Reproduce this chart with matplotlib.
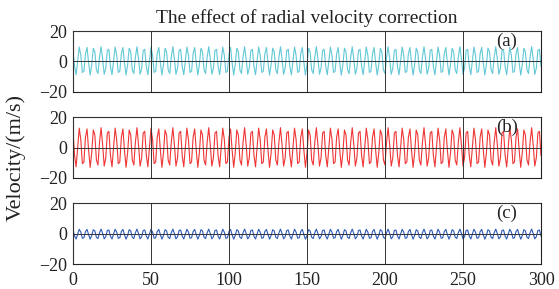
import matplotlib
matplotlib.use("Agg")
import matplotlib.pyplot as plt
import numpy as np

plt.rcParams["font.family"] = ["Liberation Serif", "DejaVu Serif"]
plt.rcParams["axes.unicode_minus"] = True

TITLE = "The effect of radial velocity correction"
YLABEL = "Velocity/(m/s)"
PANEL_TAGS = ["(a)", "(b)", "(c)"]
X_TICKS = [0, 50, 100, 150, 200, 250, 300]
Y_TICKS = [-20, 0, 20]

# velocity samples, one per time unit (0..300)
vel_a = [
    8.0, -3.3, -8.7, 0.4, 9.5, 4.1, -7.2, -6.4, 5.2, 9.2, -0.9, -8.9, -2.1, 8.7, 6.3, -5.5, -7.9, 2.9, 9.7, 1.7, -8.4, -4.4, 7.2,
    8.0, -3.3, -8.7, 0.4, 9.5, 4.1, -7.2, -6.4, 5.2, 9.2, -0.9, -8.9, -2.1, 8.7, 6.3, -5.5, -7.9, 2.9, 9.7, 1.7, -8.4, -4.4, 7.2,
    8.0, -3.3, -8.7, 0.4, 9.5, 4.1, -7.2, -6.4, 5.2, 9.2, -0.9, -8.9, -2.1, 8.7, 6.3, -5.5, -7.9, 2.9, 9.7, 1.7, -8.4, -4.4, 7.2,
    8.0, -3.3, -8.7, 0.4, 9.5, 4.1, -7.2, -6.4, 5.2, 9.2, -0.9, -8.9, -2.1, 8.7, 6.3, -5.5, -7.9, 2.9, 9.7, 1.7, -8.4, -4.4, 7.2,
    8.0, -3.3, -8.7, 0.4, 9.5, 4.1, -7.2, -6.4, 5.2, 9.2, -0.9, -8.9, -2.1, 8.7, 6.3, -5.5, -7.9, 2.9, 9.7, 1.7, -8.4, -4.4, 7.2,
    8.0, -3.3, -8.7, 0.4, 9.5, 4.1, -7.2, -6.4, 5.2, 9.2, -0.9, -8.9, -2.1, 8.7, 6.3, -5.5, -7.9, 2.9, 9.7, 1.7, -8.4, -4.4, 7.2,
    8.0, -3.3, -8.7, 0.4, 9.5, 4.1, -7.2, -6.4, 5.2, 9.2, -0.9, -8.9, -2.1, 8.7, 6.3, -5.5, -7.9, 2.9, 9.7, 1.7, -8.4, -4.4, 7.2,
    8.0, -3.3, -8.7, 0.4, 9.5, 4.1, -7.2, -6.4, 5.2, 9.2, -0.9, -8.9, -2.1, 8.7, 6.3, -5.5, -7.9, 2.9, 9.7, 1.7, -8.4, -4.4, 7.2,
    8.0, -3.3, -8.7, 0.4, 9.5, 4.1, -7.2, -6.4, 5.2, 9.2, -0.9, -8.9, -2.1, 8.7, 6.3, -5.5, -7.9, 2.9, 9.7, 1.7, -8.4, -4.4, 7.2,
    8.0, -3.3, -8.7, 0.4, 9.5, 4.1, -7.2, -6.4, 5.2, 9.2, -0.9, -8.9, -2.1, 8.7, 6.3, -5.5, -7.9, 2.9, 9.7, 1.7, -8.4, -4.4, 7.2,
    8.0, -3.3, -8.7, 0.4, 9.5, 4.1, -7.2, -6.4, 5.2, 9.2, -0.9, -8.9, -2.1, 8.7, 6.3, -5.5, -7.9, 2.9, 9.7, 1.7, -8.4, -4.4, 7.2,
    8.0, -3.3, -8.7, 0.4, 9.5, 4.1, -7.2, -6.4, 5.2, 9.2, -0.9, -8.9, -2.1, 8.7, 6.3, -5.5, -7.9, 2.9, 9.7, 1.7, -8.4, -4.4, 7.2,
    8.0, -3.3, -8.7, 0.4, 9.5, 4.1, -7.2, -6.4, 5.2, 9.2, -0.9, -8.9, -2.1, 8.7, 6.3, -5.5, -7.9, 2.9, 9.7, 1.7, -8.4, -4.4, 7.2,
    8.0, -3.3,
]

vel_b = [
    10.6, -5.2, -12.7, 0.0, 12.7, 5.2, -10.6, -9.5, 6.8, 12.2, -1.8, -13.0, -3.5, 11.5, 8.2, -8.2, -11.5, 3.5, 13.0, 1.8, -12.2, -6.8, 9.5,
    10.6, -5.2, -12.7, 0.0, 12.7, 5.2, -10.6, -9.5, 6.8, 12.2, -1.8, -13.0, -3.5, 11.5, 8.2, -8.2, -11.5, 3.5, 13.0, 1.8, -12.2, -6.8, 9.5,
    10.6, -5.2, -12.7, 0.0, 12.7, 5.2, -10.6, -9.5, 6.8, 12.2, -1.8, -13.0, -3.5, 11.5, 8.2, -8.2, -11.5, 3.5, 13.0, 1.8, -12.2, -6.8, 9.5,
    10.6, -5.2, -12.7, 0.0, 12.7, 5.2, -10.6, -9.5, 6.8, 12.2, -1.8, -13.0, -3.5, 11.5, 8.2, -8.2, -11.5, 3.5, 13.0, 1.8, -12.2, -6.8, 9.5,
    10.6, -5.2, -12.7, 0.0, 12.7, 5.2, -10.6, -9.5, 6.8, 12.2, -1.8, -13.0, -3.5, 11.5, 8.2, -8.2, -11.5, 3.5, 13.0, 1.8, -12.2, -6.8, 9.5,
    10.6, -5.2, -12.7, 0.0, 12.7, 5.2, -10.6, -9.5, 6.8, 12.2, -1.8, -13.0, -3.5, 11.5, 8.2, -8.2, -11.5, 3.5, 13.0, 1.8, -12.2, -6.8, 9.5,
    10.6, -5.2, -12.7, 0.0, 12.7, 5.2, -10.6, -9.5, 6.8, 12.2, -1.8, -13.0, -3.5, 11.5, 8.2, -8.2, -11.5, 3.5, 13.0, 1.8, -12.2, -6.8, 9.5,
    10.6, -5.2, -12.7, 0.0, 12.7, 5.2, -10.6, -9.5, 6.8, 12.2, -1.8, -13.0, -3.5, 11.5, 8.2, -8.2, -11.5, 3.5, 13.0, 1.8, -12.2, -6.8, 9.5,
    10.6, -5.2, -12.7, 0.0, 12.7, 5.2, -10.6, -9.5, 6.8, 12.2, -1.8, -13.0, -3.5, 11.5, 8.2, -8.2, -11.5, 3.5, 13.0, 1.8, -12.2, -6.8, 9.5,
    10.6, -5.2, -12.7, 0.0, 12.7, 5.2, -10.6, -9.5, 6.8, 12.2, -1.8, -13.0, -3.5, 11.5, 8.2, -8.2, -11.5, 3.5, 13.0, 1.8, -12.2, -6.8, 9.5,
    10.6, -5.2, -12.7, 0.0, 12.7, 5.2, -10.6, -9.5, 6.8, 12.2, -1.8, -13.0, -3.5, 11.5, 8.2, -8.2, -11.5, 3.5, 13.0, 1.8, -12.2, -6.8, 9.5,
    10.6, -5.2, -12.7, 0.0, 12.7, 5.2, -10.6, -9.5, 6.8, 12.2, -1.8, -13.0, -3.5, 11.5, 8.2, -8.2, -11.5, 3.5, 13.0, 1.8, -12.2, -6.8, 9.5,
    10.6, -5.2, -12.7, 0.0, 12.7, 5.2, -10.6, -9.5, 6.8, 12.2, -1.8, -13.0, -3.5, 11.5, 8.2, -8.2, -11.5, 3.5, 13.0, 1.8, -12.2, -6.8, 9.5,
    10.6, -5.2,
]

vel_c = [
    2.3, -1.7, -3.6, -0.4, 2.8, 0.9, -3.1, -2.8, 1.3, 2.7, -0.8, -3.7, -1.3, 2.5, 1.7, -2.5, -3.3, 0.5, 2.9, 0.0, -3.5, -2.1, 2.0,
    2.3, -1.7, -3.6, -0.4, 2.8, 0.9, -3.1, -2.8, 1.3, 2.7, -0.8, -3.7, -1.3, 2.5, 1.7, -2.5, -3.3, 0.5, 2.9, 0.0, -3.5, -2.1, 2.0,
    2.3, -1.7, -3.6, -0.4, 2.8, 0.9, -3.1, -2.8, 1.3, 2.7, -0.8, -3.7, -1.3, 2.5, 1.7, -2.5, -3.3, 0.5, 2.9, 0.0, -3.5, -2.1, 2.0,
    2.3, -1.7, -3.6, -0.4, 2.8, 0.9, -3.1, -2.8, 1.3, 2.7, -0.8, -3.7, -1.3, 2.5, 1.7, -2.5, -3.3, 0.5, 2.9, 0.0, -3.5, -2.1, 2.0,
    2.3, -1.7, -3.6, -0.4, 2.8, 0.9, -3.1, -2.8, 1.3, 2.7, -0.8, -3.7, -1.3, 2.5, 1.7, -2.5, -3.3, 0.5, 2.9, 0.0, -3.5, -2.1, 2.0,
    2.3, -1.7, -3.6, -0.4, 2.8, 0.9, -3.1, -2.8, 1.3, 2.7, -0.8, -3.7, -1.3, 2.5, 1.7, -2.5, -3.3, 0.5, 2.9, 0.0, -3.5, -2.1, 2.0,
    2.3, -1.7, -3.6, -0.4, 2.8, 0.9, -3.1, -2.8, 1.3, 2.7, -0.8, -3.7, -1.3, 2.5, 1.7, -2.5, -3.3, 0.5, 2.9, 0.0, -3.5, -2.1, 2.0,
    2.3, -1.7, -3.6, -0.4, 2.8, 0.9, -3.1, -2.8, 1.3, 2.7, -0.8, -3.7, -1.3, 2.5, 1.7, -2.5, -3.3, 0.5, 2.9, 0.0, -3.5, -2.1, 2.0,
    2.3, -1.7, -3.6, -0.4, 2.8, 0.9, -3.1, -2.8, 1.3, 2.7, -0.8, -3.7, -1.3, 2.5, 1.7, -2.5, -3.3, 0.5, 2.9, 0.0, -3.5, -2.1, 2.0,
    2.3, -1.7, -3.6, -0.4, 2.8, 0.9, -3.1, -2.8, 1.3, 2.7, -0.8, -3.7, -1.3, 2.5, 1.7, -2.5, -3.3, 0.5, 2.9, 0.0, -3.5, -2.1, 2.0,
    2.3, -1.7, -3.6, -0.4, 2.8, 0.9, -3.1, -2.8, 1.3, 2.7, -0.8, -3.7, -1.3, 2.5, 1.7, -2.5, -3.3, 0.5, 2.9, 0.0, -3.5, -2.1, 2.0,
    2.3, -1.7, -3.6, -0.4, 2.8, 0.9, -3.1, -2.8, 1.3, 2.7, -0.8, -3.7, -1.3, 2.5, 1.7, -2.5, -3.3, 0.5, 2.9, 0.0, -3.5, -2.1, 2.0,
    2.3, -1.7, -3.6, -0.4, 2.8, 0.9, -3.1, -2.8, 1.3, 2.7, -0.8, -3.7, -1.3, 2.5, 1.7, -2.5, -3.3, 0.5, 2.9, 0.0, -3.5, -2.1, 2.0,
    2.3, -1.7,
]

SERIES = [vel_a, vel_b, vel_c]
COLORS = ["#62c8d6", "#f03535", "#2f5ab5"]
INK = "#222222"

fig = plt.figure(figsize=(5.59, 2.89), dpi=100)
left, width, height = 0.1306, 0.8372, 0.211
bottoms = [0.6817, 0.3841, 0.0865]

axes = []
for i, (vals, col, tag) in enumerate(zip(SERIES, COLORS, PANEL_TAGS)):
    ax = fig.add_axes([left, bottoms[i], width, height])
    t = np.arange(len(vals))
    ax.plot(t, vals, color=col, lw=0.8)
    ax.set_xlim(0, 300)
    ax.set_ylim(-20, 20)
    ax.set_xticks(X_TICKS)
    ax.set_yticks(Y_TICKS)
    ax.grid(True, color="#333333", lw=0.7, ls="-")
    ax.set_axisbelow(False)
    ax.tick_params(length=0, labelsize=13, colors=INK)
    ax.tick_params(axis="y", pad=4)
    ax.tick_params(axis="x", pad=6)
    for s in ax.spines.values():
        s.set_color(INK)
        s.set_linewidth(0.8)
    if i < 2:
        ax.tick_params(labelbottom=False)
    ax.text(278, 13.4, tag, fontsize=13.5, ha="center", va="center", color=INK)
    axes.append(ax)

axes[0].set_title(TITLE, fontsize=14, pad=6, color=INK)
fig.text(0.029, 0.455, YLABEL, rotation=90, fontsize=16, ha="center", va="center",
         color=INK)

fig.savefig("out.png", dpi=100)
